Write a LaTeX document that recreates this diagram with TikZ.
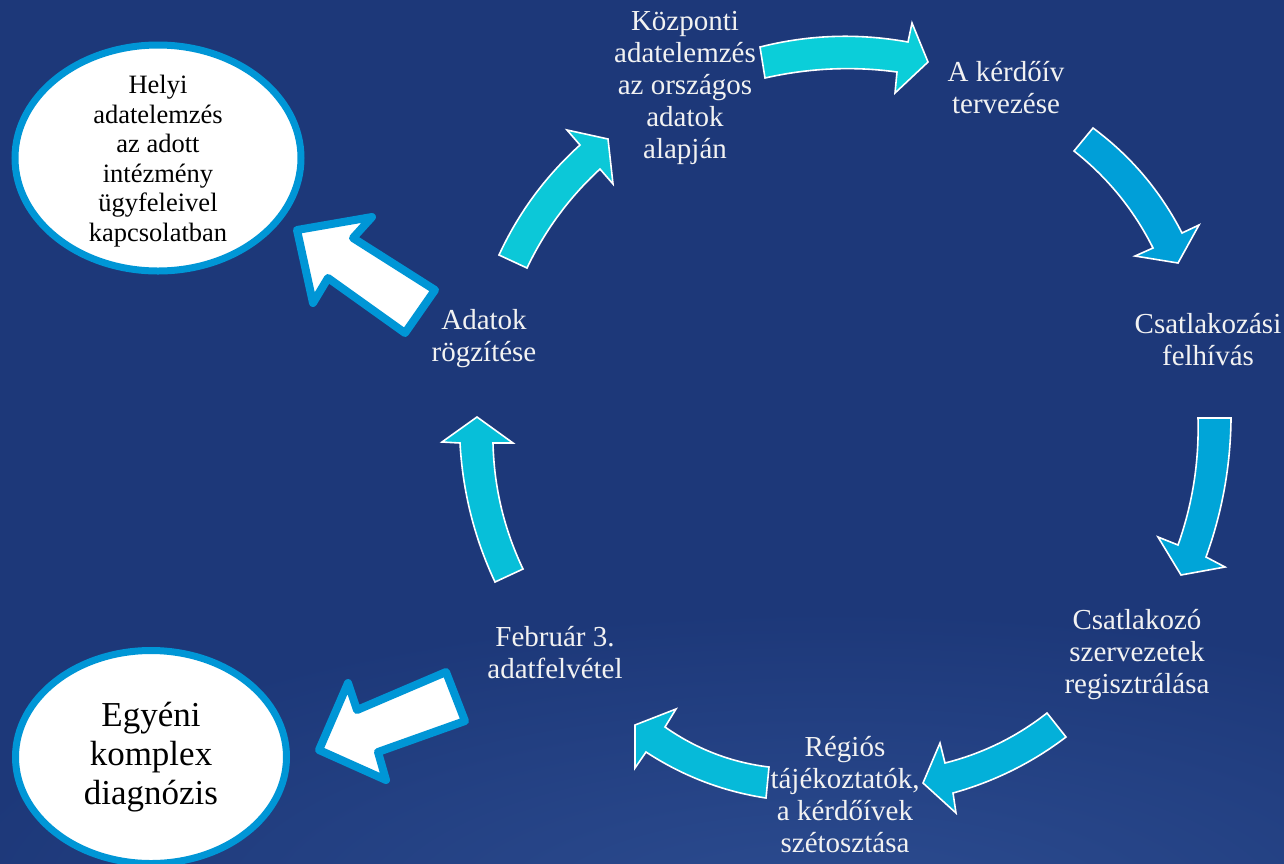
\documentclass[tikz,border=0pt]{standalone}
\usepackage{fontspec}
\setmainfont{Liberation Serif}
\usetikzlibrary{shapes.geometric}
\definecolor{bg}{HTML}{1D3879}
\definecolor{glow}{HTML}{2C4C90}
\definecolor{ring}{HTML}{0096D6}
\definecolor{txt}{HTML}{F2F2F2}
\definecolor{ca}{HTML}{0CC8D8}
\definecolor{cb}{HTML}{0BCED9}
\definecolor{cc}{HTML}{009FD8}
\definecolor{cd}{HTML}{00A5D8}
\definecolor{ce}{HTML}{03B0D9}
\definecolor{cf}{HTML}{06BAD9}
\definecolor{cg}{HTML}{07BFD9}
\begin{document}
\begin{tikzpicture}[x=1pt,y=-1pt,
  lbl/.style={text=txt, align=center, inner sep=0pt, font=\fontsize{29}{32}\selectfont},
  carrow/.style={draw=white, line width=1.6pt, line join=miter},
  blockarrow/.style={fill=white, draw=ring, line width=8pt, line join=round},
  bubble/.style={ellipse, fill=white, draw=ring, line width=7pt, inner sep=0pt},
  btext/.style={text=black, align=center, inner sep=0pt}]
\fill[bg] (0,0) rectangle (1284,863);
\useasboundingbox (0,0) rectangle (1284,863);
\begin{scope}
  \clip (0,0) rectangle (1284,863);
  \shade[inner color=glow, outer color=bg] (830,910) ellipse [x radius=900, y radius=300];
\end{scope}

% bubbles
\node[bubble, minimum width=286pt, minimum height=226pt] (helyi) at (158,158) {};
\node[btext, font=\fontsize{26.5}{29.5}\selectfont] (helyitext) at ([yshift=-3pt]helyi.center) {Helyi\\adatelemzés\\az adott\\intézmény\\ügyfeleivel\\kapcsolatban};
\node[bubble, minimum width=271pt, minimum height=213pt] (egyeni) at (151,757) {};
\node[btext, font=\fontsize{35}{39}\selectfont] (egyenitext) at (egyeni.center) {Egyéni\\komplex\\diagnózis};

% white block arrows
\path[blockarrow] (297,230) -- (372,217) -- (353,238) -- (435,290) -- (405,333) -- (328,278) -- (313,303) -- cycle;
\path[blockarrow] (319,750) -- (348,683) -- (357,710) -- (446,672) -- (465,721) -- (378,752) -- (386,780) -- cycle;

% curved cycle arrows
\path[carrow, fill=ca] (499,255) .. controls (518.5,212.8) and (545.5,176.2) .. (580,145) -- (567,130) -- (608,139) -- (613,184) -- (600,169) .. controls (569.3,197.3) and (544.9,230.3) .. (527,268) -- cycle;
\path[carrow, fill=cb] (760,47) .. controls (808.9,34.6) and (858.3,33) .. (908,42) -- (912,23) -- (928,62) -- (895,93) -- (897,72) .. controls (853,66) and (809,68) .. (765,78) -- cycle;
\path[carrow, fill=cc] (1093,128) .. controls (1130.9,156.1) and (1160.5,191.1) .. (1182,233) -- (1199,225) -- (1178,263) -- (1135,256) -- (1153,248) .. controls (1133.8,209.7) and (1107.4,177.3) .. (1074,151) -- cycle;
\path[carrow, fill=cd] (1231,418) .. controls (1230.6,465.7) and (1222.2,512.1) .. (1206,557) -- (1225,567) -- (1181,575) -- (1158,537) -- (1178,545) .. controls (1192.6,504) and (1199.2,461.5) .. (1198,418) -- cycle;
\path[carrow, fill=ce] (1066,737) .. controls (1031.9,762.9) and (994.3,781.5) .. (953,793) -- (956,813) -- (923,783) -- (940,743) -- (945,763) .. controls (982.6,753.5) and (1016.6,736.9) .. (1047,713) -- cycle;
\path[carrow, fill=cf] (766,798) .. controls (722.7,791.4) and (682.7,776) .. (646,752) -- (635,768) -- (635,725) -- (676,709) -- (665,727) .. controls (696.4,749) and (731,762.4) .. (769,767) -- cycle;
\path[carrow, fill=cg] (495,582) .. controls (474.3,538) and (462.7,491.6) .. (460,443) -- (442,442) -- (477,417) -- (513,443) -- (493,443) .. controls (494,487.1) and (504,529.1) .. (523,569) -- cycle;

% cycle labels
\node[lbl] (kozp) at (685,88) {Központi\\adatelemzés\\az országos\\adatok\\alapján};
\node[lbl] (kerd) at (1006,88) {A kérdőív\\tervezése};
\node[lbl] (csf) at (1208,340) {Csatlakozási\\felhívás};
\node[lbl] (csr) at (1137,655) {Csatlakozó\\szervezetek\\regisztrálása};
\node[lbl] (reg) at (845,795) {Régiós\\tájékoztatók,\\a kérdőívek\\szétosztása};
\node[lbl] (feb) at (555,653) {Február 3.\\adatfelvétel};
\node[lbl] (adat) at (484,339) {Adatok\\rögzítése};
\end{tikzpicture}
\end{document}
